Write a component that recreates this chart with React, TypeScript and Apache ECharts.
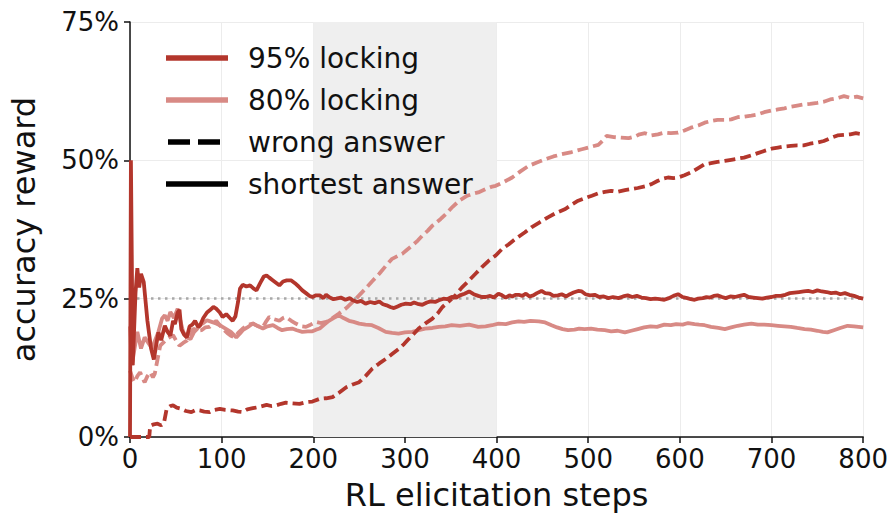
import React, { useEffect, useRef } from "react";
import * as echarts from "echarts";

const xTicks = [0, 100, 200, 300, 400, 500, 600, 700, 800];
const yTicks = [0, 25, 50, 75];
const shadedRange = [200, 400];
const referenceLevel = 25;

const legendLabels = ["95% locking", "80% locking", "wrong answer", "shortest answer"];

// 95% locking, shortest answer (solid, dark)
const s95Steps = [0, 1, 3, 6, 8, 10, 12, 15, 19, 23, 26, 29, 31, 34, 38, 41, 44, 47, 49, 52, 54, 56, 59, 62, 65, 68, 71, 74, 76, 80, 84, 87, 91, 94, 98, 101, 105, 109, 112, 115, 118, 120, 123, 127, 131, 135, 138, 142, 146, 149, 152, 156, 160, 163, 167, 171, 176, 180, 184, 188, 192, 196, 199, 203, 207, 211, 214, 218, 222, 225, 230, 235, 240, 243, 248, 252, 257, 262, 267, 272, 276, 280, 284, 288, 292, 296, 301, 306, 310, 315, 319, 324, 328, 333, 337, 342, 346, 351, 356, 360, 365, 370, 375, 380, 384, 388, 393, 397, 402, 406, 410, 414, 417, 421, 424, 428, 432, 436, 440, 444, 449, 453, 458, 462, 467, 471, 476, 480, 484, 489, 493, 497, 502, 507, 512, 517, 522, 527, 533, 538, 543, 548, 553, 558, 563, 568, 573, 578, 583, 588, 593, 598, 603, 608, 612, 616, 620, 625, 629, 633, 637, 641, 646, 650, 655, 660, 665, 670, 675, 680, 685, 690, 695, 700, 705, 710, 715, 720, 725, 730, 735, 740, 745, 750, 755, 760, 765, 770, 775, 780, 785, 790, 795, 800];
const s95Vals = [0, 50, 13, 26, 30.5, 27, 29.5, 28, 21, 16, 14, 17, 18.9, 17.5, 20.1, 19, 18.3, 21, 20.4, 22.5, 23, 19.5, 18.5, 18, 20, 20.3, 21, 20, 20, 21.5, 22.5, 22.9, 23.5, 23.2, 22.5, 21.7, 22.2, 21.5, 21, 21.8, 24.5, 26.8, 27.5, 27.2, 27.4, 26.8, 26.5, 27.8, 29, 29.2, 28.8, 28.3, 27.8, 27.4, 28.1, 28.3, 28.3, 27.8, 27.2, 26.5, 26, 25.5, 25.3, 25.6, 25.6, 25.1, 25.7, 25.2, 24.9, 25, 25.2, 24.8, 25.1, 24.7, 24.4, 24.6, 24.1, 24.4, 24.2, 24.5, 24.0, 23.8, 23.5, 23.3, 23.6, 23.9, 24.1, 24.0, 24.3, 24.0, 23.9, 24.3, 24.5, 24.4, 24.7, 25.0, 24.9, 25.3, 25.2, 25.6, 25.9, 26.3, 25.8, 25.5, 25.3, 25.3, 25.5, 25.2, 25.9, 25.6, 25.2, 25.6, 25.4, 25.7, 25.7, 25.5, 25.9, 25.4, 25.6, 26.0, 26.4, 26.0, 25.9, 25.5, 25.6, 25.8, 25.4, 25.8, 26.1, 26.4, 26.3, 25.8, 25.6, 25.7, 25.3, 25.4, 25.1, 25.3, 25.1, 25.4, 25.6, 25.3, 25.5, 25.2, 25.1, 24.9, 25.0, 24.9, 24.8, 25.1, 25.5, 25.8, 25.3, 25.1, 24.9, 24.8, 25.0, 25.1, 25.3, 25.2, 25.5, 25.6, 25.3, 25.1, 25.4, 25.3, 25.5, 25.7, 25.3, 25.2, 25.1, 25.0, 25.2, 25.3, 25.5, 25.5, 25.7, 26.0, 26.1, 26.2, 26.3, 26.4, 26.2, 26.5, 26.3, 26.2, 26.0, 26.1, 25.8, 26.0, 25.7, 25.5, 25.2, 25.0];

// 95% locking, wrong answer (dashed, dark)
const w95Steps = [0, 10, 21, 22, 26, 30, 34, 37, 40, 44, 47, 51, 56, 61, 67, 72, 76, 81, 87, 92, 98, 104, 112, 118, 123, 128, 134, 140, 149, 154, 159, 165, 170, 177, 185, 192, 199, 207, 214, 221, 228, 236, 243, 250, 257, 264, 272, 279, 286, 293, 299, 304, 310, 315, 322, 330, 336, 341, 348, 355, 362, 370, 377, 384, 391, 399, 406, 413, 419, 424, 431, 438, 447, 456, 465, 475, 482, 489, 497, 504, 512, 518, 525, 532, 540, 547, 554, 562, 569, 576, 582, 587, 593, 598, 605, 612, 620, 627, 634, 641, 649, 656, 663, 670, 678, 685, 692, 700, 707, 714, 721, 728, 735, 742, 750, 757, 764, 772, 779, 786, 792, 800];
const w95Vals = [0, 0, 0, 2, 2.3, 2.4, 2.1, 2.5, 5.1, 5.6, 5.7, 5.3, 5.1, 4.7, 4.5, 4.9, 4.8, 4.6, 4.5, 4.9, 5.1, 4.9, 4.8, 4.6, 4.5, 5.0, 5.2, 5.4, 5.8, 5.6, 5.7, 6.0, 6.2, 6.1, 6.0, 6.3, 6.4, 6.9, 7.0, 7.2, 8.0, 9.0, 9.5, 9.9, 11.0, 12.3, 13.3, 14.1, 15.0, 15.9, 16.8, 17.7, 18.7, 19.6, 20.5, 21.4, 22.4, 23.5, 24.5, 25.6, 27.0, 28.3, 29.5, 30.7, 31.8, 32.8, 34.0, 34.8, 35.6, 36.2, 37.0, 37.9, 38.8, 39.7, 40.5, 41.2, 42.0, 42.7, 43.2, 43.6, 44.1, 44.3, 44.5, 44.3, 44.6, 44.8, 45.0, 45.3, 45.7, 46.3, 46.7, 46.9, 46.8, 46.9, 47.3, 47.8, 48.6, 49.3, 49.5, 49.7, 49.9, 50.1, 50.3, 50.5, 50.9, 51.3, 51.7, 52.1, 52.3, 52.5, 52.6, 52.7, 52.7, 53.0, 53.2, 53.5, 54.0, 54.5, 54.6, 54.7, 54.9, 54.7];

// 80% locking, wrong answer (dashed, light)
const w80Steps = [0, 3, 5, 8, 11, 14, 16, 19, 22, 25, 27, 30, 33, 36, 40, 43, 47, 50, 54, 58, 62, 66, 69, 73, 78, 82, 87, 91, 94, 98, 101, 106, 110, 114, 118, 123, 128, 134, 140, 145, 149, 152, 157, 163, 167, 170, 176, 181, 187, 192, 197, 203, 208, 214, 221, 228, 236, 243, 250, 257, 264, 272, 279, 286, 292, 297, 302, 308, 314, 319, 325, 330, 339, 344, 352, 360, 368, 375, 380, 388, 394, 399, 408, 417, 426, 435, 444, 453, 462, 471, 482, 493, 502, 511, 516, 520, 528, 536, 544, 551, 556, 562, 569, 576, 583, 590, 598, 605, 612, 620, 627, 634, 641, 649, 656, 663, 670, 678, 685, 692, 700, 707, 714, 721, 728, 735, 742, 750, 757, 764, 771, 779, 786, 793, 800];
const w80Vals = [12, 10.5, 9.9, 11, 11.7, 10.5, 9.9, 11, 11.7, 10.8, 11.4, 14, 16.5, 17, 17.7, 18, 18.4, 17.5, 16.5, 17, 17.4, 18.5, 19.6, 19.2, 19.3, 19.8, 19.9, 20.5, 21, 20.2, 19.6, 18.8, 18.3, 18.0, 18.8, 19.6, 20.2, 20.5, 20.0, 19.9, 21.0, 21.7, 21.3, 21.0, 21.5, 21.7, 21.0, 20.5, 20.0, 19.9, 20.3, 20.8, 20.6, 20.8, 21.5, 22.3, 23.3, 24.4, 25.6, 26.8, 28.1, 29.5, 30.9, 32.2, 32.7, 33.1, 33.8, 34.6, 35.5, 36.4, 37.3, 38.2, 39.4, 40.2, 41.6, 42.8, 43.6, 44.0, 44.2, 44.8, 45.2, 45.4, 46.1, 46.9, 48.0, 49.0, 49.6, 50.2, 50.7, 51.1, 51.5, 52.0, 52.4, 52.8, 53.6, 54.4, 54.2, 54.1, 54.0, 54.3, 54.7, 54.9, 54.5, 54.7, 55.0, 54.9, 55.0, 55.4, 55.9, 56.3, 56.8, 57.1, 57.3, 57.3, 57.4, 57.8, 57.9, 58.1, 58.3, 58.7, 59.0, 59.2, 59.4, 59.7, 59.9, 60.1, 60.2, 60.4, 60.6, 61.0, 61.2, 61.6, 61.3, 61.5, 61.2];

// 80% locking, shortest answer (solid, light)
const s80Steps = [0, 2, 5, 8, 12, 16, 20, 24, 27, 31, 35, 38, 41, 44, 48, 52, 55, 58, 62, 66, 70, 73, 76, 80, 84, 89, 94, 98, 101, 106, 110, 113, 116, 120, 123, 128, 134, 140, 145, 150, 156, 161, 166, 171, 177, 182, 188, 194, 199, 203, 207, 212, 217, 222, 228, 233, 239, 244, 250, 257, 264, 271, 279, 286, 293, 300, 308, 315, 322, 330, 337, 344, 351, 360, 370, 380, 388, 395, 402, 410, 417, 424, 430, 437, 446, 453, 460, 466, 472, 478, 485, 490, 496, 503, 510, 518, 525, 532, 540, 547, 554, 561, 568, 575, 583, 590, 596, 603, 609, 616, 621, 627, 634, 642, 649, 656, 663, 670, 678, 685, 692, 700, 707, 714, 721, 728, 736, 743, 750, 756, 761, 768, 775, 783, 790, 795, 800];
const s80Vals = [20, 13, 16, 19, 16, 18, 17, 16, 17.3, 19, 21.4, 22, 21, 22.6, 21.5, 23.2, 21, 19, 18, 17.7, 19, 19.5, 20.2, 20.6, 21.1, 20.8, 20.5, 20.2, 19.9, 19.4, 19.0, 18.5, 18.0, 18.7, 19.3, 19.8, 20.5, 20.0, 19.6, 20.0, 20.2, 19.7, 19.3, 19.5, 19.6, 19.3, 19.0, 19.1, 19.1, 19.4, 19.6, 20.3, 21.0, 21.5, 22.0, 21.5, 21.0, 20.8, 20.5, 20.3, 20.2, 19.7, 19.0, 18.8, 18.7, 18.9, 19.0, 19.3, 19.6, 19.7, 19.9, 20.0, 20.2, 20.1, 20.3, 19.9, 20.0, 20.2, 20.5, 20.4, 20.7, 20.9, 20.8, 21.0, 20.9, 20.7, 20.2, 19.8, 19.5, 19.3, 19.4, 19.6, 19.5, 19.6, 19.4, 19.3, 19.1, 19.2, 18.9, 19.2, 19.5, 19.8, 20.0, 19.9, 20.3, 20.2, 20.4, 20.3, 20.6, 20.4, 20.3, 20.2, 19.9, 19.7, 19.5, 19.8, 20.1, 20.3, 20.5, 20.3, 20.3, 20.2, 20.1, 20.0, 19.9, 19.7, 19.5, 19.4, 19.2, 19.0, 18.9, 19.3, 19.7, 20.1, 20.0, 19.9, 19.8];

const DARK = "#b3362c";
const LIGHT = "#d88a85";
const FONT = "DejaVu Sans";

const zip = (xs: number[], ys: number[]) => xs.map((x, i) => [x, ys[i]]);

export default function App() {
  const ref = useRef<HTMLDivElement>(null);

  useEffect(() => {
    if (!ref.current) return;
    const chart = echarts.init(ref.current, null, { renderer: "svg" });

    const legendYs = [58, 100, 142, 184];
    const legendGraphics: any[] = [
      { type: "line", z: 100, shape: { x1: 166, y1: legendYs[0], x2: 228, y2: legendYs[0] }, style: { stroke: DARK, lineWidth: 5.5 } },
      { type: "line", z: 100, shape: { x1: 166, y1: legendYs[1], x2: 228, y2: legendYs[1] }, style: { stroke: LIGHT, lineWidth: 5.5 } },
      { type: "line", z: 100, shape: { x1: 168, y1: legendYs[2], x2: 222, y2: legendYs[2] }, style: { stroke: "#000", lineWidth: 5.5, lineDash: [22, 8] } },
      { type: "line", z: 100, shape: { x1: 166, y1: legendYs[3], x2: 228, y2: legendYs[3] }, style: { stroke: "#000", lineWidth: 5.5 } },
      ...legendLabels.map((t, i) => ({
        type: "text",
        z: 100,
        x: 248,
        y: legendYs[i],
        style: { text: t, fill: "#111", font: `28px "${FONT}"`, textVerticalAlign: "middle", verticalAlign: "middle" },
      })),
    ];

    chart.setOption({
      animation: false,
      grid: { left: 130, right: 25, top: 22, bottom: 78 },
      xAxis: {
        type: "value",
        min: xTicks[0],
        max: xTicks[xTicks.length - 1],
        interval: 100,
        name: "RL elicitation steps",
        nameLocation: "middle",
        nameGap: 42,
        nameTextStyle: { fontFamily: FONT, fontSize: 32, color: "#111" },
        axisLine: { show: true, lineStyle: { color: "#111", width: 1.5 } },
        axisTick: { show: true, length: 6, lineStyle: { color: "#111", width: 1.5 } },
        axisLabel: { fontFamily: FONT, fontSize: 26, color: "#111", margin: 9 },
        splitLine: { show: true, lineStyle: { color: "#ececec", width: 1 } },
      },
      yAxis: {
        type: "value",
        min: yTicks[0],
        max: yTicks[yTicks.length - 1],
        interval: 25,
        name: "accuracy reward",
        nameLocation: "middle",
        nameGap: 90,
        nameTextStyle: { fontFamily: FONT, fontSize: 32, color: "#111" },
        axisLine: { show: true, lineStyle: { color: "#111", width: 1.5 } },
        axisTick: { show: true, length: 6, lineStyle: { color: "#111", width: 1.5 } },
        axisLabel: { fontFamily: FONT, fontSize: 26, color: "#111", margin: 11, formatter: "{value}%" },
        splitLine: { show: true, lineStyle: { color: "#ececec", width: 1 } },
      },
      series: [
        {
          type: "line",
          name: "markers",
          data: [],
          z: 1,
          silent: true,
          markArea: {
            silent: true,
            itemStyle: { color: "#efefef" },
            data: [[{ xAxis: shadedRange[0] }, { xAxis: shadedRange[1] }]],
          },
          markLine: {
            silent: true,
            symbol: "none",
            label: { show: false },
            lineStyle: { color: "#a8a8a8", type: [2.5, 4.5], width: 2.5 },
            data: [{ yAxis: referenceLevel }],
          },
        },
        {
          type: "line",
          name: "80% locking – wrong answer",
          data: zip(w80Steps, w80Vals),
          showSymbol: false,
          z: 2,
          lineStyle: { color: LIGHT, width: 3.8, type: [11, 5] },
        },
        {
          type: "line",
          name: "80% locking – shortest answer",
          data: zip(s80Steps, s80Vals),
          showSymbol: false,
          z: 3,
          lineStyle: { color: LIGHT, width: 3.8 },
        },
        {
          type: "line",
          name: "95% locking – wrong answer",
          data: zip(w95Steps, w95Vals),
          showSymbol: false,
          z: 4,
          lineStyle: { color: DARK, width: 3.8, type: [11, 5] },
        },
        {
          type: "line",
          name: "95% locking – shortest answer",
          data: zip(s95Steps, s95Vals),
          showSymbol: false,
          z: 5,
          lineStyle: { color: DARK, width: 3.8 },
        },
      ],
      graphic: legendGraphics,
    });

    return () => chart.dispose();
  }, []);

  return (
    <div
      ref={ref}
      style={{ position: "absolute", left: 0, top: 0, width: 891, height: 516, background: "#fff" }}
    />
  );
}
